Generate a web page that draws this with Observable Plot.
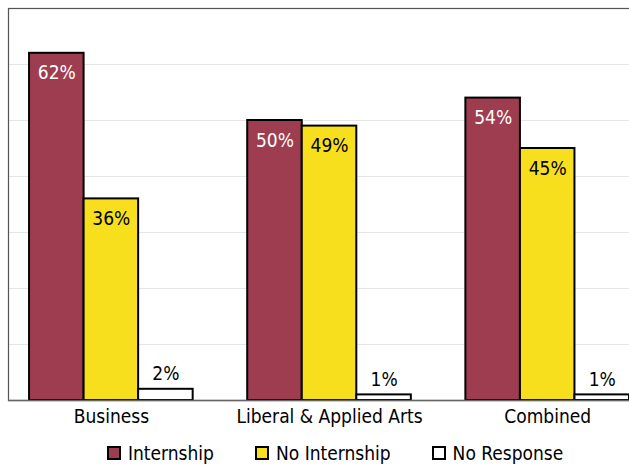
<!DOCTYPE html>
<html>
<head>
<meta charset="utf-8">
<script src="https://cdn.jsdelivr.net/npm/d3@7"></script>
<script src="https://cdn.jsdelivr.net/npm/@observablehq/plot@0.6"></script>
<style>
  html, body { margin: 0; padding: 0; background: white; }
  #chart { width: 629px; }
</style>
</head>
<body>
<div id="chart"></div>
<script>
const groups = ["Business", "Liberal & Applied Arts", "Combined"];
const series = ["Internship", "No Internship", "No Response"];
const internship = [62, 50, 54];
const noInternship = [36, 49, 45];
const noResponse = [2, 1, 1];
const seriesColors = ["#9E3D50", "#F7DF1E", "#FFFFFF"];
const gridTicks = [10, 20, 30, 40, 50, 60];
const yMax = 70;

const FONT = "'DejaVu Sans Condensed', 'Liberation Sans Narrow', sans-serif";

const valuesBySeries = [internship, noInternship, noResponse];
const data = [];
const xDomain = [];
groups.forEach((g, gi) => {
  series.forEach((s, si) => {
    const key = g + "|" + s;
    xDomain.push(key);
    data.push({group: g, series: s, key, value: valuesBySeries[si][gi]});
  });
  if (gi < groups.length - 1) xDomain.push("gap" + gi);
});
const middleKeys = groups.map(g => g + "|" + series[1]);
const groupOfKey = Object.fromEntries(middleKeys.map((k, i) => [k, groups[i]]));

const chart = Plot.plot({
  width: 629,
  height: 432,
  marginTop: 8,
  marginBottom: 32,
  marginLeft: 8,
  marginRight: 0,
  style: {fontFamily: FONT, fontSize: "19px", background: "white", overflow: "visible"},
  x: {domain: xDomain, paddingInner: 0, paddingOuter: 0.193, align: 1, round: false, axis: null},
  y: {domain: [0, yMax], axis: null},
  color: {domain: series, range: seriesColors},
  marks: [
    Plot.ruleY(gridTicks, {stroke: "#e6e6e6", strokeWidth: 1}),
    Plot.frame({stroke: "#555", strokeWidth: 1.2, insetRight: -6}),
    Plot.barY(data, {x: "key", y: "value", fill: "series", stroke: "black", strokeWidth: 2}),
    Plot.ruleY([0], {stroke: "#666", strokeWidth: 1.5}),
    Plot.text(data.filter(d => d.series === "Internship"), {
      x: "key", y: "value", text: d => d.value + "%", dy: 20,
      fill: "white", fontSize: 19
    }),
    Plot.text(data.filter(d => d.series === "No Internship"), {
      x: "key", y: "value", text: d => d.value + "%", dy: 20,
      fill: "black", fontSize: 19
    }),
    Plot.text(data.filter(d => d.series === "No Response"), {
      x: "key", y: "value", text: d => d.value + "%", dy: -15,
      fill: "black", fontSize: 19
    }),
    Plot.axisX({
      ticks: middleKeys,
      tickFormat: k => groupOfKey[k],
      tickSize: 0,
      tickPadding: 9,
      fontSize: 19,
      label: null
    })
  ]
});

const legend = Plot.legend({
  color: {domain: series, range: seriesColors},
  legend: "swatches",
  swatchSize: 12,
  style: {fontFamily: FONT, fontSize: "19px", color: "black", marginLeft: "108px", marginTop: "4px", background: "white", flexWrap: "nowrap", whiteSpace: "nowrap", width: "521px"}
});
d3.select(legend).selectAll("rect")
  .attr("stroke", "black")
  .attr("stroke-width", 2);
d3.select(legend).selectAll("span").style("margin-right", "42px");
d3.select(legend).selectAll("svg").style("margin-right", "8px").style("overflow", "visible");

const root = document.getElementById("chart");
root.appendChild(chart);
root.appendChild(legend);
</script>
</body>
</html>
